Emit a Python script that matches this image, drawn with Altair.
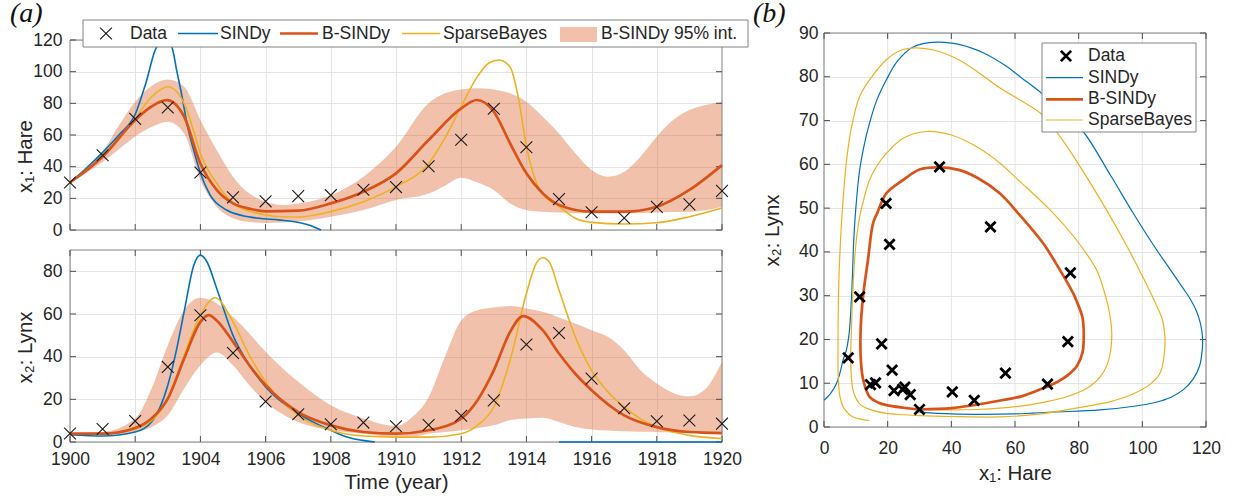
import altair as alt
import pandas as pd

# ---------------- style ----------------
FONT = "Liberation Sans"
SERIF = "Liberation Serif"
INK = "#262626"
C_SINDY = "#0072BD"
C_BSINDY = "#D95319"
C_SB = "#EDB120"
BAND_OPACITY = 0.36
GRID = "#e4e4e4"
FRAME = "#828282"
TICK = "#4d4d4d"
XPATH = "M-1,-1L1,1M-1,1L1,-1"

# ---------------- data ----------------
years = list(range(1900, 1921))
hare = [30.0, 47.2, 70.2, 77.4, 36.3, 20.6, 18.1, 21.4, 22.0, 25.4, 27.1,
        40.3, 57.0, 76.6, 52.3, 19.5, 11.2, 7.6, 14.6, 16.2, 24.7]
lynx = [4.0, 6.1, 9.8, 35.2, 59.4, 41.7, 19.0, 13.0, 8.3, 9.1, 7.4,
        8.0, 12.3, 19.5, 45.7, 51.1, 29.7, 15.8, 9.7, 10.1, 8.6]

year_ticks = list(range(1900, 1921, 2))
hare_ticks = [0, 20, 40, 60, 80, 100, 120]
lynx_ticks = [0, 20, 40, 60, 80]
lynx_top = 90
phase_x_ticks = [0, 20, 40, 60, 80, 100, 120]
phase_y_ticks = [0, 10, 20, 30, 40, 50, 60, 70, 80, 90]

# ---- (a) top: hare time series ----
sindy_hare_t = [1900, 1900.5, 1901, 1901.5, 1902, 1902.33, 1902.66, 1902.9, 1903.12, 1903.28,
                1903.43, 1903.6, 1903.8, 1904.0, 1904.3, 1904.8, 1905.3, 1905.8, 1906.4,
                1906.9, 1907.3, 1907.7]
sindy_hare_v = [30, 39, 49, 60, 73, 93, 115.6, 118.7, 115.6, 100,
                85, 66, 50, 36, 22, 12.6, 9.0, 7.4, 6.4,
                5.2, 3.3, 0]

bs_hare_t = [1900, 1901, 1902, 1902.5, 1902.97, 1903.5, 1904, 1904.5, 1905, 1905.5, 1906,
             1907, 1908, 1909, 1910, 1911, 1912, 1912.48, 1913, 1913.5, 1914, 1914.5,
             1915, 1916, 1917, 1918, 1919, 1920]
bs_hare_v = [30, 46.3, 69.5, 78, 82, 71.6, 42, 25.3, 16.8, 13.5, 11.8,
             12.2, 16.8, 24.2, 35.8, 56.8, 76.8, 82.1, 74.7, 54.7, 35.8, 23.2,
             15.8, 11.6, 11.6, 14.7, 25.3, 41]

sb_hare_t = [1900, 1901, 1902, 1902.5, 1903, 1903.5, 1903.8, 1904, 1904.5, 1905, 1905.5,
             1906, 1906.5, 1907, 1908, 1909, 1910, 1911, 1911.5, 1912, 1912.5, 1912.85,
             1913.16, 1913.5, 1913.75, 1914, 1914.45, 1915, 1915.5, 1916, 1917, 1918,
             1919, 1920]
sb_hare_v = [30, 47, 70.5, 84, 90.5, 80, 62, 48.4, 29.5, 16.8, 12,
             9.5, 8.4, 8.2, 11.6, 17.9, 27.4, 42, 58, 78, 97, 105.5,
             107.4, 103, 84, 53, 24, 15, 7.4, 4.8, 3.8, 4.6,
             8.4, 13.9]

band_hare_t = [1900, 1900.5, 1901, 1901.5, 1902, 1902.5, 1903, 1903.5, 1904, 1904.5, 1905,
               1905.5, 1906, 1906.5, 1907, 1908, 1909, 1910, 1911, 1911.5, 1912, 1912.5,
               1913, 1913.5, 1914, 1914.5, 1915, 1915.5, 1916, 1916.5, 1917, 1917.5, 1918,
               1918.5, 1919, 1919.5, 1920]
band_hare_lo = [30, 36, 43, 51, 59, 65, 68.4, 61, 31.6, 14.7, 7.4,
                5.0, 4.5, 4.8, 5.3, 8.4, 12.6, 19, 23, 28, 33, 30,
                25.3, 16.8, 12.6, 11.5, 11, 10.6, 10.5, 10.5, 10.5, 10.8, 11,
                11.3, 11.6, 12.5, 14.7]
band_hare_hi = [30, 40, 49.5, 66, 81, 91, 95, 90.5, 69.5, 50.5, 33.7,
                23, 17.9, 15.8, 16.8, 22, 33.7, 52.6, 80, 86.3, 88.8, 89.5,
                88.8, 86.3, 81, 71.6, 61, 48.4, 37.9, 33.7, 36.8, 46.3, 59,
                69.5, 75.8, 79, 81]

# ---- (a) bottom: lynx time series ----
sindy_lynx_t = [1900, 1901, 1902, 1902.5, 1903, 1903.25, 1903.5, 1903.8, 1904, 1904.2,
                1904.5, 1905, 1905.5, 1906, 1907, 1908, 1908.5, 1909.35,
                1915.0, 1920]
sindy_lynx_v = [3.4, 2.8, 4.7, 9.4, 26.6, 42, 61, 83, 87.6, 84.5,
                72, 50, 36, 25.8, 13.3, 5.5, 2.3, 0,
                0, 0]
sindy_lynx_seg = [0] * 18 + [1, 1]

bs_lynx_t = [1900, 1901, 1902, 1902.5, 1903, 1903.5, 1904, 1904.25, 1904.5, 1905, 1905.5,
             1906, 1907, 1908, 1909, 1910, 1911, 1912, 1912.5, 1913, 1913.5, 1913.9,
             1914.5, 1915, 1915.5, 1916, 1917, 1918, 1919, 1920]
bs_lynx_v = [3.9, 3.9, 6.6, 11, 20.3, 39, 56.3, 59.5, 57, 47, 36,
             26.6, 14, 7.8, 4.7, 3.9, 5.5, 11, 19.6, 33.6, 51.6, 59,
             52.4, 41.5, 32, 24.3, 12.5, 7, 4.7, 4.2]

sb_lynx_t = [1900, 1901, 1902, 1902.5, 1903, 1903.5, 1904, 1904.45, 1905, 1905.5, 1906,
             1907, 1908, 1909, 1910, 1911, 1912, 1912.5, 1913, 1913.5, 1914, 1914.3,
             1914.5, 1914.7, 1915, 1915.5, 1916, 1916.5, 1917, 1918, 1919, 1920]
sb_lynx_v = [3.9, 3.9, 6.0, 10, 20, 40.7, 59.5, 67.6, 56.3, 40.7, 28.2,
             12.5, 5.5, 2.8, 2.3, 2.3, 3.9, 7.8, 16.4, 38.3, 69.6, 83.7,
             86.4, 84.5, 71.2, 49.3, 33.6, 23.5, 16.4, 7, 3.1, 1.6]

band_lynx_t = [1900, 1901, 1902, 1902.5, 1903, 1903.5, 1904, 1904.5, 1905, 1905.5, 1906,
               1907, 1908, 1909, 1910, 1910.5, 1911, 1911.5, 1912, 1912.5, 1913, 1913.5,
               1914, 1914.5, 1915, 1915.5, 1916, 1916.5, 1917, 1917.5, 1918, 1918.5,
               1919, 1919.5, 1920]
band_lynx_lo = [3.8, 3.4, 4.7, 7, 12.5, 25, 36, 42, 36, 26.6, 18.8,
                9.4, 5.5, 3.9, 2.5, 2.5, 3.9, 4.7, 5.5, 6.5, 7.8, 10.2,
                11, 11.4, 9.4, 7, 5.9, 5.4, 5, 4.8, 4.7, 4.5,
                4.4, 4.3, 4.2]
band_lynx_hi = [4.2, 4.7, 11, 25, 45.4, 61.8, 67.6, 65, 58.7, 50.9, 42.3,
                28.2, 17.2, 11, 7.5, 11.7, 21, 40, 57, 61.8, 63, 63.7,
                62.6, 61, 58.4, 55.6, 52.4, 49.3, 43, 33.6, 27.4, 23,
                21.4, 25, 37.6]

# ---- (b) phase portrait (x1 = hare, x2 = lynx), in time order ----
sindy_ph_x = [30, 40, 50, 60, 72, 86.7, 98, 104, 109, 113,
              116, 118, 118.8, 118.9, 118.3, 117, 115, 112.5, 109.5, 104,
              97, 90, 81.4, 75, 68.3, 62, 57.3, 50, 43, 35.3,
              28, 23, 19.6, 16.5, 14.3, 12.5, 11.2, 10.0, 9.3, 9.0,
              8.6, 7.9, 7.0, 6.0, 5.0, 3.9, 2.2, 1.0, 0]
sindy_ph_y = [3.4, 3.0, 2.9, 3.0, 3.4, 3.9, 4.8, 5.6, 6.8, 8.6,
              11, 14, 17.5, 20.5, 23.5, 26.5, 29.3, 32, 35.2, 41,
              49, 57.5, 67.5, 72, 76.3, 79.8, 82.4, 85.5, 87.3, 87.9,
              86.8, 83.5, 79.3, 74.5, 69.4, 64, 58.7, 50, 42, 36,
              29, 21.4, 17.5, 15.3, 12.3, 9.9, 7.8, 6.8, 6.1]

sb_ph_x = [30, 40, 48, 55.2, 64, 70, 76.2, 82, 86.7, 89.3, 90.4, 89.7, 88, 85.6, 79, 71,
           61.5, 55.2, 48, 40, 32.1, 25, 19.6, 16.5, 14.3, 12.5, 11.2, 10.2, 9.6, 9.0,
           8.6, 8.4, 8.6, 9.1, 10, 11.2, 13, 15.4, 19.6, 25, 30, 40, 55.2, 68, 81.4, 90,
           97.2, 102.5, 105.5, 106.8, 107.1, 106.3, 104, 100, 95, 88, 80, 74, 68.3, 62,
           55.2, 48.5, 42, 35, 28.5, 24, 19.6, 15, 11.2, 8.5, 7, 5.8, 4.9, 4.5, 4.4, 4.5,
           5, 6, 7.5, 9.1, 11.5, 14.3]
sb_ph_y = [4.0, 3.9, 4.0, 4.3, 5.0, 5.8, 6.9, 8.6, 11.4, 15, 20.6, 26, 31, 35.9, 43, 49.6,
           56.1, 60.3, 64, 66.7, 67.5, 66, 62.5, 59.5, 56.4, 52, 48, 43, 38.1, 30,
           22, 16, 11.5, 8.4, 6.6, 5.3, 4.4, 3.8, 3.1, 2.8, 2.6, 2.4, 2.3, 3.0, 4.6, 5.8,
           7.6, 9.8, 12.2, 16, 20.5, 24.5, 28.5, 34.5, 41.5, 50.5, 60, 66.5, 71.5, 74.5,
           77.5, 81, 84, 86, 86.6, 86, 83.9, 80, 75.5, 68, 60.3, 50, 38.1, 28, 18, 11,
           7, 4.6, 3.2, 2.3, 1.8, 1.5]

bs_ph_x = [30, 40, 47, 55, 62, 68, 72.5, 76.5, 79.5, 81.2, 81.6, 81.2, 79.5, 78.3, 74, 68.9,
           61.5, 55.2, 48, 42, 35.3, 30, 24.8, 19.6, 16.8, 15.4, 13.8, 12.3, 11.5, 11.6,
           12.4, 14.3, 17, 19.6, 25, 30]
bs_ph_y = [4.0, 4.3, 5.0, 6.0, 7.0, 8.6, 10, 11.8, 14, 17, 20.6, 25, 28.5, 30.5, 36, 41.9,
           48.4, 53.4, 57, 58.8, 59.3, 58.8, 56.4, 53.4, 49, 46.5, 38.1, 30, 22, 15,
           10.5, 6.9, 5.6, 5.0, 4.4, 4.0]

# ---------------- frames ----------------
W_L, H_TOP, H_BOT = 652, 197, 192
HEAD = 7  # headroom above the 120 line in the top panel
W_R, H_R = 382, 394   # right panel drawn area; its layout cell is only H_TOP tall
TICK_LEN = 6

ONE = pd.DataFrame({"k": [0]})


def lin(x, y, extra=None):
    d = {"t": x, "v": y, "i": list(range(len(x)))}
    if extra:
        d.update(extra)
    return pd.DataFrame(d)


# ---------- encodings ----------
def top_x(f):
    return alt.X(f"{f}:Q", scale=alt.Scale(domain=[year_ticks[0], year_ticks[-1]], nice=False, zero=False),
                 axis=alt.Axis(values=year_ticks[1:-1], labels=False, title=None))


def top_y(f):
    return alt.Y(f"{f}:Q", scale=alt.Scale(domain=[hare_ticks[0], hare_ticks[-1]], range=[H_TOP, HEAD],
                                           nice=False, zero=False),
                 axis=alt.Axis(values=hare_ticks, title="x₁: Hare", titleX=-45, titleY=123,
                               titleBaseline="middle", titleAlign="center", labelPadding=8))


def bot_x(f):
    return alt.X(f"{f}:Q", scale=alt.Scale(domain=[year_ticks[0], year_ticks[-1]], nice=False, zero=False),
                 axis=alt.Axis(values=year_ticks, format="d", title="Time (year)", titleY=40,
                               titleBaseline="middle", labelPadding=8))


def bot_y(f):
    return alt.Y(f"{f}:Q", scale=alt.Scale(domain=[0, lynx_top], nice=False, zero=False),
                 axis=alt.Axis(values=lynx_ticks, title="x₂: Lynx", titleX=-45, titleY=97,
                               titleBaseline="middle", titleAlign="center", labelPadding=8))


def ph_x(f):
    return alt.X(f"{f}:Q", scale=alt.Scale(domain=[phase_x_ticks[0], phase_x_ticks[-1]], nice=False, zero=False),
                 axis=alt.Axis(values=phase_x_ticks, title="x₁: Hare", titleY=46, titleBaseline="middle",
                               labelPadding=12, grid=False, offset=H_R - H_TOP))


def ph_y(f):
    return alt.Y(f"{f}:Q", scale=alt.Scale(domain=[phase_y_ticks[0], phase_y_ticks[-1]], range=[H_R, 0],
                                           nice=False, zero=False),
                 axis=alt.Axis(values=phase_y_ticks, title="x₂: Lynx", titleX=-52, titleY=H_R / 2,
                               titleBaseline="middle", titleAlign="center", labelPadding=6))


def frame(xe, ye, xs, ys):
    d = pd.DataFrame({"x0": [xs[0]], "x1": [xs[-1]], "y0": [ys[0]], "y1": [ys[-1]]})
    return alt.Chart(d).mark_rect(fillOpacity=0, stroke=FRAME, strokeWidth=1).encode(
        x=xe("x0"), x2="x1:Q", y=ye("y0"), y2="y1:Q")


def edge_ticks(xe, ye, xs, ys, x_lim, y_lim, sides):
    """Inward tick marks on the box edges (tick values from the tick arrays)."""
    out = []
    h = TICK_LEN / 2
    for side in sides:
        if side in ("left", "right"):
            xv = x_lim[0] if side == "left" else x_lim[1]
            d = pd.DataFrame({"a": [xv] * len(ys), "b": ys})
            out.append(alt.Chart(d).mark_tick(orient="horizontal", size=TICK_LEN, thickness=1, color=TICK,
                                              opacity=1, xOffset=h if side == "left" else -h)
                       .encode(x=xe("a"), y=ye("b")))
        else:
            yv = y_lim[0] if side == "bottom" else y_lim[1]
            d = pd.DataFrame({"a": xs, "b": [yv] * len(xs)})
            out.append(alt.Chart(d).mark_tick(orient="vertical", size=TICK_LEN, thickness=1, color=TICK,
                                              opacity=1, yOffset=-h if side == "bottom" else h)
                       .encode(x=xe("a"), y=ye("b")))
    return out


def ts_line(df, color, width, xe, ye, detail=False):
    enc = dict(x=xe("t"), y=ye("v"))
    if detail:
        enc["detail"] = "seg:N"
    return alt.Chart(df).mark_line(color=color, strokeWidth=width, interpolate="monotone").encode(**enc)


def ph_line(df, color, width):
    return alt.Chart(df).mark_line(color=color, strokeWidth=width, interpolate="catmull-rom").encode(
        x=ph_x("t"), y=ph_y("v"), order="i:Q")


def band(df, xe, ye):
    return alt.Chart(df).mark_area(color=C_BSINDY, opacity=BAND_OPACITY, interpolate="monotone",
                                   strokeWidth=0).encode(x=xe("t"), y=ye("lo"), y2="hi:Q")


def crosses(df, xe, ye, size, sw, color):
    return alt.Chart(df).mark_point(shape=XPATH, filled=False, size=size, strokeWidth=sw,
                                    color=color, opacity=1).encode(x=xe("t"), y=ye("v"))


# ---------- legend helpers (pixel placement inside panel) ----------
def lg_box(x0, x1, y0, y1):
    return alt.Chart(ONE).mark_rect(fill="white", stroke=FRAME, strokeWidth=1).encode(
        x=alt.value(x0), x2=alt.value(x1), y=alt.value(y0), y2=alt.value(y1))


def lg_line(x0, x1, y, color, width):
    return alt.Chart(ONE).mark_rule(color=color, strokeWidth=width).encode(
        x=alt.value(x0), x2=alt.value(x1), y=alt.value(y))


def lg_text(x, y, s, size=17.5):
    return alt.Chart(ONE).mark_text(text=s, font=FONT, fontSize=size, color=INK, align="left",
                                    baseline="middle").encode(x=alt.value(x), y=alt.value(y))


def lg_cross(x, y, size, sw, color):
    return alt.Chart(ONE).mark_point(shape=XPATH, filled=False, size=size, strokeWidth=sw,
                                     color=color, opacity=1).encode(x=alt.value(x), y=alt.value(y))


def lg_patch(x0, x1, y0, y1):
    return alt.Chart(ONE).mark_rect(color=C_BSINDY, opacity=BAND_OPACITY).encode(
        x=alt.value(x0), x2=alt.value(x1), y=alt.value(y0), y2=alt.value(y1))


def panel_label(x, y, s):
    return alt.Chart(ONE).mark_text(text=s, font=SERIF, fontStyle="italic", fontSize=28, color="#111111",
                                    align="left", baseline="alphabetic").encode(x=alt.value(x), y=alt.value(y))


# ---------------- top panel ----------------
df_hare = pd.DataFrame({"t": years, "v": hare})
df_lynx = pd.DataFrame({"t": years, "v": lynx})
yr_lim = [year_ticks[0], year_ticks[-1]]

top = alt.layer(
    band(pd.DataFrame({"t": band_hare_t, "lo": band_hare_lo, "hi": band_hare_hi}), top_x, top_y),
    frame(top_x, top_y, year_ticks, hare_ticks),
    *edge_ticks(top_x, top_y, year_ticks, hare_ticks, yr_lim, [hare_ticks[0], hare_ticks[-1]],
                ["left", "right", "bottom"]),
    ts_line(lin(sindy_hare_t, sindy_hare_v), C_SINDY, 1.6, top_x, top_y),
    ts_line(lin(sb_hare_t, sb_hare_v), C_SB, 1.6, top_x, top_y),
    ts_line(lin(bs_hare_t, bs_hare_v), C_BSINDY, 2.7, top_x, top_y),
    crosses(df_hare, top_x, top_y, 140, 1.1, "#1a1a1a"),
    lg_box(13, 678, -13, 14),
    lg_cross(36, 0.5, 140, 1.1, "#1a1a1a"),
    lg_text(60, 0.5, "Data"),
    lg_line(108, 148, 0.5, C_SINDY, 1.6),
    lg_text(150, 0.5, "SINDy"),
    lg_line(210, 248, 0.5, C_BSINDY, 2.7),
    lg_text(252, 0.5, "B-SINDy"),
    lg_line(332, 370, 0.5, C_SB, 1.6),
    lg_text(373, 0.5, "SparseBayes"),
    lg_patch(490, 527, -6, 9),
    lg_text(531, 0.5, "B-SINDy 95% int."),
    panel_label(-60, -11, "(a)"),
).properties(width=W_L, height=H_TOP)

# ---------------- bottom panel ----------------
bottom = alt.layer(
    band(pd.DataFrame({"t": band_lynx_t, "lo": band_lynx_lo, "hi": band_lynx_hi}), bot_x, bot_y),
    frame(bot_x, bot_y, year_ticks, [0, lynx_top]),
    *edge_ticks(bot_x, bot_y, year_ticks, lynx_ticks, yr_lim, [0, lynx_top],
                ["left", "right", "bottom", "top"]),
    ts_line(lin(sindy_lynx_t, sindy_lynx_v, {"seg": sindy_lynx_seg}), C_SINDY, 1.6, bot_x, bot_y, detail=True),
    ts_line(lin(sb_lynx_t, sb_lynx_v), C_SB, 1.6, bot_x, bot_y),
    ts_line(lin(bs_lynx_t, bs_lynx_v), C_BSINDY, 2.7, bot_x, bot_y),
    crosses(df_lynx, bot_x, bot_y, 140, 1.1, "#1a1a1a"),
).properties(width=W_L, height=H_BOT)

# ---------------- right panel ----------------
df_phase = pd.DataFrame({"t": hare, "v": lynx})
grid_x_right = alt.Chart(pd.DataFrame({"g": phase_x_ticks, "y0": phase_y_ticks[0], "y1": phase_y_ticks[-1]})
                         ).mark_rule(color=GRID, strokeWidth=1).encode(x=ph_x("g"), y=ph_y("y0"), y2="y1:Q")
right = alt.layer(
    grid_x_right,
    frame(ph_x, ph_y, phase_x_ticks, phase_y_ticks),
    *edge_ticks(ph_x, ph_y, phase_x_ticks, phase_y_ticks, [phase_x_ticks[0], phase_x_ticks[-1]],
                [phase_y_ticks[0], phase_y_ticks[-1]], ["left", "right", "bottom", "top"]),
    ph_line(lin(sindy_ph_x, sindy_ph_y), C_SINDY, 1.2),
    ph_line(lin(sb_ph_x, sb_ph_y), C_SB, 1.2),
    ph_line(lin(bs_ph_x, bs_ph_y), C_BSINDY, 2.7),
    crosses(df_phase, ph_x, ph_y, 105, 2.8, "#000000"),
    lg_box(218, 372, 10, 99),
    lg_cross(242, 23, 105, 2.8, "#000000"),
    lg_text(264, 23, "Data"),
    lg_line(222, 259, 44.7, C_SINDY, 1.2),
    lg_text(264, 44.7, "SINDy"),
    lg_line(222, 259, 66.3, C_BSINDY, 2.7),
    lg_text(264, 66.3, "B-SINDy"),
    lg_line(222, 259, 87, C_SB, 1.2),
    lg_text(264, 87, "SparseBayes"),
    panel_label(-71, -11, "(b)"),
).properties(width=W_R, height=H_TOP)

chart = alt.concat(
    top, right, bottom,
    columns=2,
    spacing={"row": 20, "column": 102},
    align="each",
    bounds="flush",
).properties(
    autosize=alt.AutoSizeParams(type="none"),
    padding={"left": 70, "top": 33, "right": 1163, "bottom": 463},
    background="white",
).configure_view(
    stroke="transparent"
).configure_axis(
    labelFont=FONT, labelFontSize=17.5, labelColor=INK,
    titleFont=FONT, titleFontSize=20.5, titleFontWeight="normal", titleColor=INK,
    gridColor=GRID, gridWidth=1, domain=False, ticks=False, tickSize=0,
    labelFlush=False, labelOverlap=False,
)

chart.save("out.html", embed_options={"renderer": "svg", "actions": False})
